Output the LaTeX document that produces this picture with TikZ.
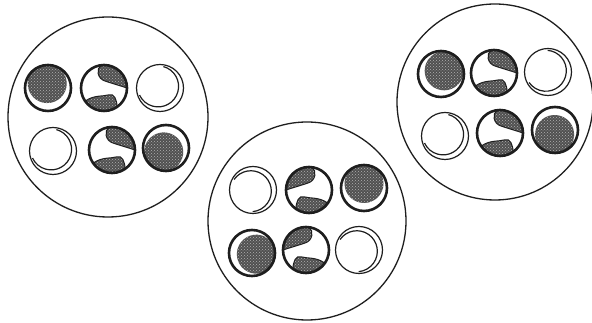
\documentclass[tikz,border=0pt]{standalone}
\usepackage{tikz}
\usetikzlibrary{patterns}
\definecolor{ink}{RGB}{30,30,30}
\tikzset{
  plate/.style={draw=ink,line width=1.3pt},
  ringthick/.style={draw=ink,line width=2.6pt},
  ringthin/.style={draw=ink,line width=1.2pt},
  stipple/.style={fill=ink!78,postaction={pattern=crosshatch dots,pattern color=white!70!black}}
}
% bead with stippled core, white crescent towards #3
\newcommand{\darkbead}[3]{%
  \fill[white] (#1,#2) circle (24);
  \begin{scope}[shift={(#1,#2)},rotate=#3]
    \fill[stipple] (-4.5,0) circle (19.5);
  \end{scope}
  \draw[ringthick] (#1,#2) circle (23);
}
% open bead, inner arc on the side #3
\newcommand{\openbead}[3]{%
  \draw[ringthin] (#1,#2) circle (23.5);
  \begin{scope}[shift={(#1,#2)},rotate=#3]
    \draw[ringthin] (-2.5,0) ++(115:20.5) arc[start angle=115,end angle=-115,radius=20.5];
  \end{scope}
}
% swirl bead, #3 = 1 or -1 (mirror)
\newcommand{\swirlbead}[3]{%
  \begin{scope}[shift={(#1,#2)},xscale=#3,scale=23]
    \fill[stipple] (0,0) circle (1);
    \filldraw[white,draw=ink,line width=1pt] (97:1) arc[start angle=97,end angle=215,radius=1]
      .. controls (-0.45,-0.3) and (-0.1,-0.38) .. (0.2,-0.3)
      .. controls (0.45,-0.22) and (0.55,-0.5) .. (-55:1)
      arc[start angle=-55,end angle=0,radius=1]
      .. controls (0.7,0.1) and (0.35,0.2) .. (0.05,0.3)
      .. controls (-0.3,0.4) and (-0.35,0.85) .. cycle;
  \end{scope}
  \draw[ringthick] (#1,#2) circle (23);
}

\begin{document}
\begin{tikzpicture}[x=1pt,y=1pt]
  \useasboundingbox (0,0) rectangle (592,323);
  \fill[white] (0,0) rectangle (592,323);
  % three plates
  \foreach \x/\y/\r in {108/206/100, 307/102/99, 495/221/98}
    \draw[plate] (\x,\y) circle (\r);
  % beads
  \foreach \x/\y/\a in {48/235/-80, 166/175/60, 364/135/-90, 252/70/165, 441/249/-135, 555/193/85}
    {\darkbead{\x}{\y}{\a}}
  \foreach \x/\y/\a in {160/235/-40, 53/172/-40, 253/133/30, 359/73/30, 548/251/-30, 445/187/-40}
    {\openbead{\x}{\y}{\a}}
  \foreach \x/\y/\m in {104/235/1, 112/173/1, 309/133/-1, 306/73/-1, 494/250/1, 500/190/1}
    {\swirlbead{\x}{\y}{\m}}
\end{tikzpicture}
\end{document}
